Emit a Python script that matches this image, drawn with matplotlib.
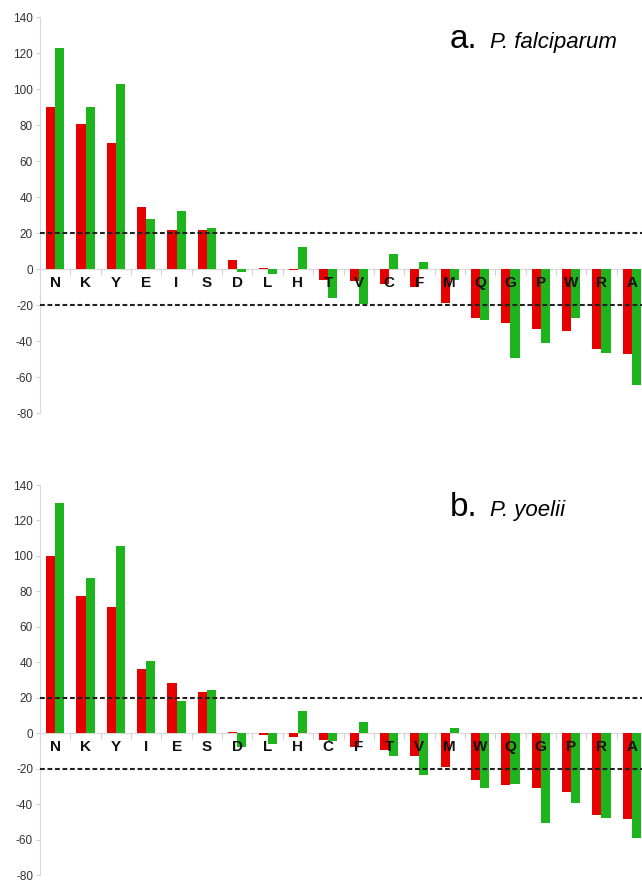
import numpy as np
import matplotlib.pyplot as plt

plt.rcParams['font.family'] = ['Liberation Sans', 'DejaVu Sans']
plt.rcParams['axes.unicode_minus'] = False

# panel a: P. falciparum
labels_a = ['N', 'K', 'Y', 'E', 'I', 'S', 'D', 'L', 'H', 'T',
            'V', 'C', 'F', 'M', 'Q', 'G', 'P', 'W', 'R', 'A']
red_a = [90, 80.5, 70, 34.3, 21.8, 21.5, 5, 0.3, -0.5, -6.1,
         -6.5, -8.3, -9.8, -19, -27, -30.2, -33.1, -34.4, -44.6, -47.2]
green_a = [122.8, 90.2, 102.8, 27.6, 32, 23, -1.5, -2.8, 12, -15.9,
           -19.6, 8.1, 4.1, -6.1, -28.3, -49.3, -40.9, -27, -46.9, -64.6]

# panel b: P. yoelii
labels_b = ['N', 'K', 'Y', 'I', 'E', 'S', 'D', 'L', 'H', 'C',
            'F', 'T', 'V', 'M', 'W', 'Q', 'G', 'P', 'R', 'A']
red_b = [100.2, 77.3, 70.9, 36, 28.4, 23.3, 0.6, -1, -1.9, -3.7,
         -8, -9.7, -13.1, -18.9, -26.3, -29.3, -31.2, -33.2, -45.9, -48.5]
green_b = [129.7, 87.4, 105.8, 40.9, 17.9, 24.1, -7.8, -6, 12.5, -4.3,
           6.3, -13.1, -23.5, 2.8, -31, -28.6, -50.8, -39.4, -47.6, -59.2]

RED = '#e60000'
GREEN = '#1db41d'

W, H = 642, 882
fig = plt.figure(figsize=(W / 100, H / 100), dpi=100)


def draw_panel(rect, labels, red, green, letter, species, title_y):
    ax = fig.add_axes(rect)
    x = np.arange(len(labels))
    bw = 0.3
    ax.bar(x - bw / 2, red, bw, color=RED, zorder=2)
    ax.bar(x + bw / 2, green, bw, color=GREEN, zorder=2)

    ax.set_xlim(-0.5, len(labels) - 0.5)
    ax.set_ylim(-80, 140)
    ax.set_yticks(np.arange(-80, 141, 20))
    ax.set_xticks(np.arange(-0.5, len(labels), 1.0))
    ax.set_xticklabels([])

    for s in ['top', 'right']:
        ax.spines[s].set_visible(False)
    ax.spines['bottom'].set_position(('data', 0))
    ax.spines['bottom'].set_color('#d9d9d9')
    ax.spines['left'].set_color('#d9d9d9')
    ax.spines['bottom'].set_zorder(1)
    ax.tick_params(axis='x', direction='out', length=4, color='#d0d0d0')
    ax.tick_params(axis='y', direction='out', length=3, color='#d0d0d0',
                   labelsize=8.5, labelcolor='#333333', pad=2)

    # threshold lines
    for yv in (20, -20):
        ax.axhline(yv, color='#222222', lw=1.5, dashes=(2.3, 1.3), zorder=3)

    # category labels
    for xi, lab in zip(x, labels):
        ax.text(xi, -8, lab, ha='center', va='center', fontsize=11,
                fontweight='bold', color='#111111', zorder=4)

    fig.text(450 / W, 1 - title_y / H, letter, fontsize=24,
             va='baseline', ha='left')
    fig.text(490 / W, 1 - title_y / H, species, fontsize=16,
             style='italic', va='baseline', ha='left')
    return ax


left = 40 / W
width = 607 / W
draw_panel([left, 1 - 413 / H, width, (413 - 17) / H],
           labels_a, red_a, green_a, 'a.', 'P. falciparum', 48)
draw_panel([left, 1 - 875 / H, width, (875 - 485) / H],
           labels_b, red_b, green_b, 'b.', 'P. yoelii', 516)

fig.savefig('out.png', dpi=100)
